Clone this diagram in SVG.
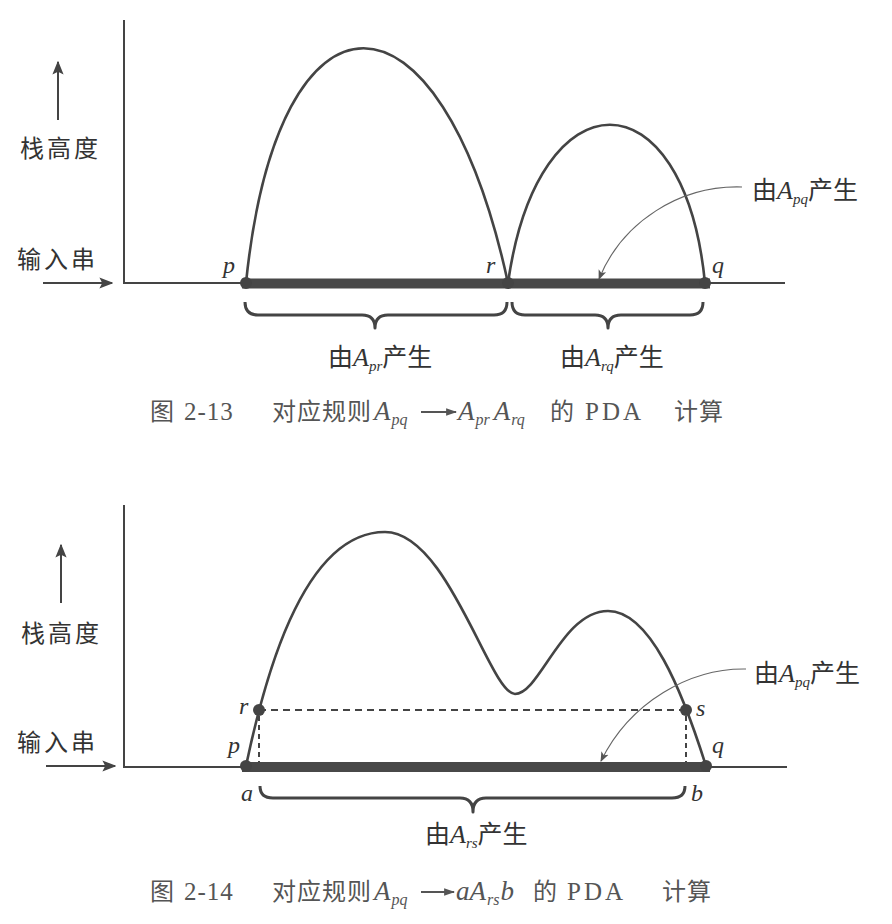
<svg xmlns="http://www.w3.org/2000/svg" width="892" height="924" viewBox="0 0 892 924">
<defs>
<style>
.ax{stroke:#444;stroke-width:2;fill:none}
.curve{stroke:#444;stroke-width:2.6;fill:none}
.bar{fill:#484848}
.dot{fill:#444}
.dash{stroke:#444;stroke-width:2;fill:none;stroke-dasharray:7 5}
.brace{stroke:#444;stroke-width:3;fill:none;stroke-linejoin:round}
.lead{stroke:#666;stroke-width:1.1;fill:none}
.cjk{font-family:"Noto Sans CJK SC",sans-serif;font-size:25px;fill:#333}
.it{font-family:"Liberation Serif",serif;font-style:italic;fill:#333}
.lbl{font-family:"Liberation Serif",serif;font-style:italic;font-size:24px;fill:#333}
.cap{font-family:"Noto Sans CJK SC",sans-serif;font-size:24px;fill:#555}
.capl{font-family:"Liberation Serif",serif;font-size:25px;fill:#555}
.capi{font-family:"Liberation Serif",serif;font-style:italic;font-size:27px;fill:#555}
.sub{font-size:16px}
</style>
<marker id="ah" viewBox="0 0 10 10" refX="9" refY="5" markerWidth="14" markerHeight="14" markerUnits="userSpaceOnUse" orient="auto">
<path d="M0,1 L10,5 L0,9 L2,5 Z" fill="#444"/>
</marker>
<marker id="ahs" viewBox="0 0 10 10" refX="9" refY="5" markerWidth="10" markerHeight="10" markerUnits="userSpaceOnUse" orient="auto">
<path d="M0,1 L10,5 L0,9 L2.5,5 Z" fill="#555"/>
</marker>
<marker id="ahc" viewBox="0 0 10 10" refX="9" refY="5" markerWidth="11" markerHeight="11" markerUnits="userSpaceOnUse" orient="auto">
<path d="M0,1.5 L10,5 L0,8.5 Z" fill="#555"/>
</marker>
</defs>
<rect width="892" height="924" fill="#fff"/>

<!-- ===== Figure 2-13 ===== -->
<g id="fig13-axes">
<path class="ax" d="M124,20 L124,283 L785,283"/>
<line class="ax" x1="58" y1="120" x2="58" y2="62" marker-end="url(#ah)"/>
<line class="ax" x1="43" y1="283" x2="112" y2="283" marker-end="url(#ah)"/>
<text class="cjk" x="20" y="157" style="font-size:24px;letter-spacing:3px">栈高度</text>
<text class="cjk" x="17" y="268" style="font-size:24px;letter-spacing:3px">输入串</text>
</g>
<g id="fig13-input">
<rect class="bar" x="242" y="278.5" width="468" height="10"/>
</g>
<g id="connectors-13">
<path class="curve" d="M246,283 C278,-30 440,-30 508,283"/>
<path class="curve" d="M508,283 C538,72 684,72 705,283"/>
<path class="lead" d="M742,187 C680,185 622,222 599,279" marker-end="url(#ahs)"/>
</g>
<g id="fig13-p"><circle class="dot" cx="246" cy="283" r="6"/><text class="lbl" x="223" y="273">p</text></g>
<g id="fig13-r"><circle class="dot" cx="508" cy="283" r="6"/><text class="lbl" x="486" y="273">r</text></g>
<g id="fig13-q"><circle class="dot" cx="705" cy="283" r="6"/><text class="lbl" x="712" y="273">q</text></g>
<g id="fig13-apq">
<text class="cjk" x="752" y="199">由<tspan class="it" style="font-size:26px">A</tspan><tspan class="it" style="font-size:15px" dy="5">pq</tspan><tspan dy="-5">产生</tspan></text>
</g>
<g id="fig13-brace-pr">
<path class="brace" d="M245,302 Q245,315 258,315 L362,315 Q375,315 375,328 Q375,315 388,315 L494,315 Q507,315 507,302"/>
<text class="cjk" x="328" y="366">由<tspan class="it" style="font-size:26px">A</tspan><tspan class="it" style="font-size:15px" dy="5">pr</tspan><tspan dy="-5">产生</tspan></text>
</g>
<g id="fig13-brace-rq">
<path class="brace" d="M512,302 Q512,315 525,315 L595,315 Q608,315 608,328 Q608,315 621,315 L690,315 Q703,315 703,302"/>
<text class="cjk" x="560" y="366">由<tspan class="it" style="font-size:26px">A</tspan><tspan class="it" style="font-size:15px" dy="5">rq</tspan><tspan dy="-5">产生</tspan></text>
</g>
<g id="caption-13">
<text class="cap" x="150" y="420">图</text>
<text class="capl" x="184" y="420" style="letter-spacing:1px">2-13</text>
<text class="cap" x="272" y="420" style="letter-spacing:1px">对应规则</text>
<text class="capi" x="374" y="420">A<tspan class="sub" dx="1" dy="5">pq</tspan></text>
<line x1="421" y1="412" x2="456" y2="412" stroke="#555" stroke-width="2" marker-end="url(#ahc)"/>
<text class="capi" x="458" y="420">A<tspan class="sub" dx="1" dy="5">pr</tspan><tspan dx="4" dy="-5">A</tspan><tspan class="sub" dx="1" dy="5">rq</tspan></text>
<text class="cap" x="550" y="420">的</text>
<text class="capl" x="585" y="420" style="letter-spacing:3px">PDA</text>
<text class="cap" x="674" y="420" style="letter-spacing:1px">计算</text>
</g>

<!-- ===== Figure 2-14 ===== -->
<g id="fig14-axes">
<path class="ax" d="M124,505 L124,767 L787,767"/>
<line class="ax" x1="61" y1="603" x2="61" y2="545" marker-end="url(#ah)"/>
<line class="ax" x1="46" y1="766" x2="115" y2="766" marker-end="url(#ah)"/>
<text class="cjk" x="21" y="642" style="font-size:24px;letter-spacing:3px">栈高度</text>
<text class="cjk" x="17" y="751" style="font-size:24px;letter-spacing:3px">输入串</text>
</g>
<g id="fig14-input">
<rect class="bar" x="242" y="762" width="468" height="10"/>
</g>
<g id="connectors-14">
<path class="curve" d="M246,766 C262,690 300,532 385,532 C448,532 490,694 515,694 C540,694 562,611 608,611 C650,611 682,690 706,766"/>
<path class="dash" d="M259,710 L686,710"/>
<path class="dash" d="M259,716 L259,762 M686,716 L686,762" style="stroke-dasharray:5 4"/>
<path class="lead" d="M746,669 C690,668 630,702 601,761" marker-end="url(#ahs)"/>
</g>
<g id="fig14-p"><circle class="dot" cx="246" cy="766" r="6"/><text class="lbl" x="228" y="753">p</text></g>
<g id="fig14-r"><circle class="dot" cx="259" cy="710" r="6"/><text class="lbl" x="239" y="714">r</text></g>
<g id="fig14-s"><circle class="dot" cx="686" cy="710" r="6"/><text class="lbl" x="696" y="716">s</text></g>
<g id="fig14-q"><circle class="dot" cx="706" cy="766" r="6"/><text class="lbl" x="712" y="753">q</text></g>
<g id="fig14-apq">
<text class="cjk" x="754" y="682">由<tspan class="it" style="font-size:26px">A</tspan><tspan class="it" style="font-size:15px" dy="5">pq</tspan><tspan dy="-5">产生</tspan></text>
</g>
<g id="fig14-brace-rs">
<path class="brace" d="M260,786 Q260,798 273,798 L460,798 Q473,798 473,812 Q473,798 486,798 L672,798 Q685,798 685,786"/>
<text class="lbl" x="241" y="801">a</text>
<text class="lbl" x="691" y="801">b</text>
<text class="cjk" x="425" y="843">由<tspan class="it" style="font-size:26px">A</tspan><tspan class="it" style="font-size:15px" dy="5">rs</tspan><tspan dy="-5">产生</tspan></text>
</g>
<g id="caption-14">
<text class="cap" x="150" y="900">图</text>
<text class="capl" x="184" y="900" style="letter-spacing:1px">2-14</text>
<text class="cap" x="272" y="900" style="letter-spacing:1px">对应规则</text>
<text class="capi" x="374" y="900">A<tspan class="sub" dx="1" dy="5">pq</tspan></text>
<line x1="421" y1="892" x2="454" y2="892" stroke="#555" stroke-width="2" marker-end="url(#ahc)"/>
<text class="capi" x="456" y="900">aA<tspan class="sub" dx="1" dy="5">rs</tspan><tspan dx="1" dy="-5">b</tspan></text>
<text class="cap" x="533" y="900">的</text>
<text class="capl" x="567" y="900" style="letter-spacing:3px">PDA</text>
<text class="cap" x="662" y="900" style="letter-spacing:1px">计算</text>
</g>
</svg>
